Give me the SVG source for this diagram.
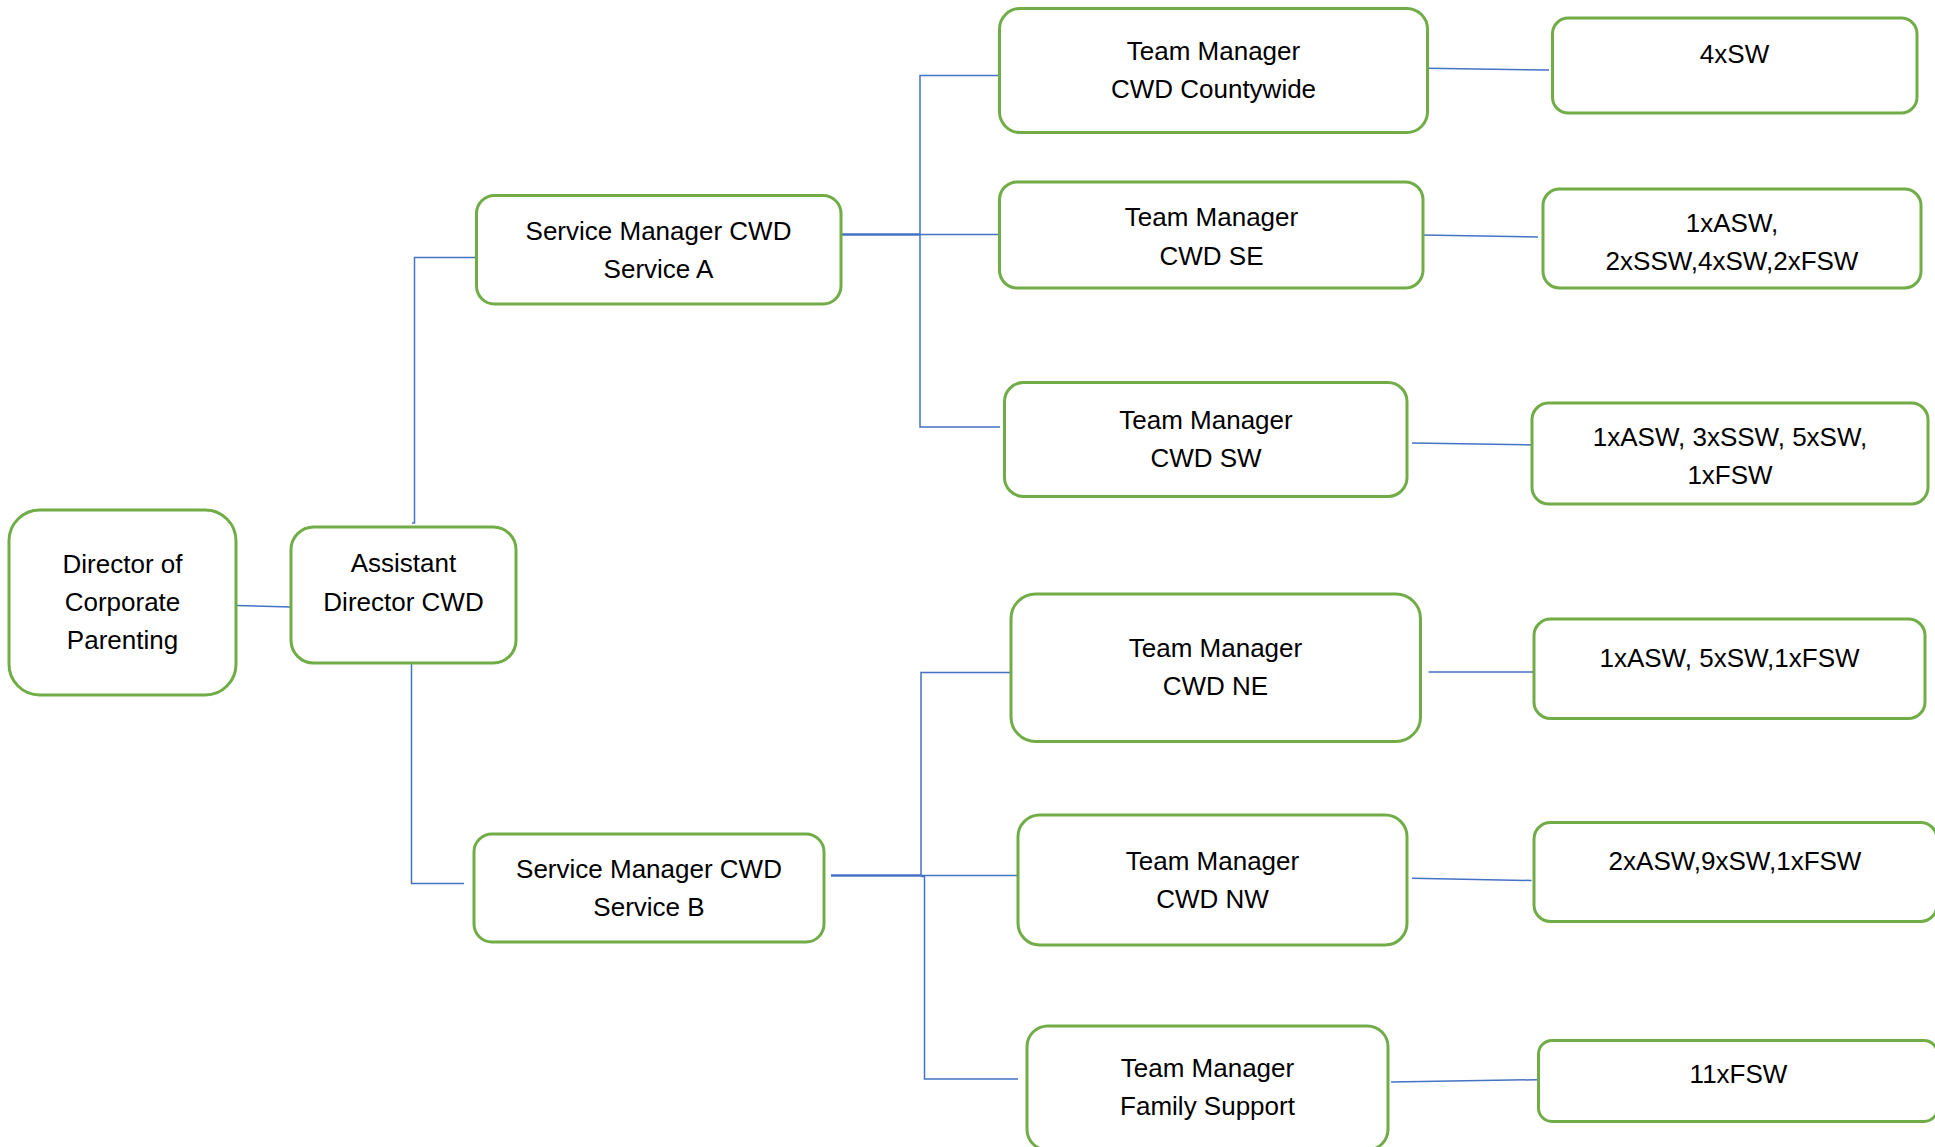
<svg xmlns="http://www.w3.org/2000/svg" width="1935" height="1147" viewBox="0 0 1935 1147">
<style>
.box{fill:#ffffff;stroke:#70AD47;stroke-width:3}
.lbl{font-family:"Liberation Sans",Arial,sans-serif;font-size:26px;fill:#000000;text-anchor:middle}
.con{fill:none;stroke:#4472C4;stroke-width:1.5}
.con2{fill:none;stroke:#4472C4;stroke-width:2.6}
</style>
<rect width="1935" height="1147" fill="#ffffff"/>
<g id="connectors">
<path class="con" d="M236 605.5 L291 607"/>
<path class="con" d="M483.5 257.5 H414.5 V523 H412"/>
<path class="con" d="M411.5 663 V883.5 H464"/>
<path class="con2" d="M841 234.5 H920"/>
<path class="con" d="M920 234.5 H1004.5"/>
<path class="con" d="M1000 75.5 H920 V427 H1000"/>
<path class="con2" d="M831 875.5 H921"/>
<path class="con" d="M921 875.5 H1027.5"/>
<path class="con" d="M1011 672.5 H921 V875.5"/>
<path class="con" d="M921 876.5 H924.5 V1079 H1018"/>
<path class="con" d="M1427 68.3 L1549 70"/>
<path class="con" d="M1423 235 L1538 237"/>
<path class="con" d="M1412 443 L1534 445"/>
<path class="con" d="M1428.5 672 L1537 672"/>
<path class="con" d="M1412 878.3 L1531.5 880.5"/>
<path class="con" d="M1391 1082 L1537 1079.7"/>
</g>
<g id="director">
<rect class="box" x="9" y="510" width="227" height="185" rx="30.8"/>
<text class="lbl" x="122.5" y="572.5">Director of</text>
<text class="lbl" x="122.5" y="610.5">Corporate</text>
<text class="lbl" x="122.5" y="648.5">Parenting</text>
</g>
<g id="assistant-director">
<rect class="box" x="291" y="527" width="225" height="136" rx="22.7"/>
<text class="lbl" x="403.5" y="572">Assistant</text>
<text class="lbl" x="403.5" y="611">Director CWD</text>
</g>
<g id="sm-a">
<rect class="box" x="476.5" y="195.5" width="364.5" height="108.5" rx="18"/>
<text class="lbl" x="658.5" y="240">Service Manager CWD</text>
<text class="lbl" x="658.5" y="278">Service A</text>
</g>
<g id="sm-b">
<rect class="box" x="474" y="834" width="350" height="108" rx="18"/>
<text class="lbl" x="649" y="878">Service Manager CWD</text>
<text class="lbl" x="649" y="916">Service B</text>
</g>
<g id="tm-countywide">
<rect class="box" x="999.5" y="8.5" width="428" height="124" rx="20.7"/>
<text class="lbl" x="1213.5" y="60">Team Manager</text>
<text class="lbl" x="1213.5" y="98">CWD Countywide</text>
</g>
<g id="tm-se">
<rect class="box" x="999.5" y="182" width="423.5" height="106" rx="17.7"/>
<text class="lbl" x="1211.5" y="226">Team Manager</text>
<text class="lbl" x="1211.5" y="264.5">CWD SE</text>
</g>
<g id="tm-sw">
<rect class="box" x="1004.5" y="382.5" width="402.5" height="114" rx="19"/>
<text class="lbl" x="1206" y="429">Team Manager</text>
<text class="lbl" x="1206" y="467">CWD SW</text>
</g>
<g id="tm-ne">
<rect class="box" x="1011" y="594" width="409.5" height="147.5" rx="24.6"/>
<text class="lbl" x="1215.5" y="657">Team Manager</text>
<text class="lbl" x="1215.5" y="695">CWD NE</text>
</g>
<g id="tm-nw">
<rect class="box" x="1018" y="815" width="389" height="130" rx="21.7"/>
<text class="lbl" x="1212.5" y="869.5">Team Manager</text>
<text class="lbl" x="1212.5" y="907.5">CWD NW</text>
</g>
<g id="tm-family-support">
<rect class="box" x="1027" y="1026" width="361" height="124" rx="20.7"/>
<text class="lbl" x="1207.5" y="1077">Team Manager</text>
<text class="lbl" x="1207.5" y="1115">Family Support</text>
</g>
<g id="staff-countywide">
<rect class="box" x="1552.5" y="18" width="364.5" height="95" rx="15.8"/>
<text class="lbl" x="1734.5" y="62.5">4xSW</text>
</g>
<g id="staff-se">
<rect class="box" x="1543" y="189" width="378" height="99" rx="16.5"/>
<text class="lbl" x="1732" y="231.5">1xASW,</text>
<text class="lbl" x="1732" y="270">2xSSW,4xSW,2xFSW</text>
</g>
<g id="staff-sw">
<rect class="box" x="1532" y="403" width="396" height="101" rx="16.8"/>
<text class="lbl" x="1730" y="446">1xASW, 3xSSW, 5xSW,</text>
<text class="lbl" x="1730" y="484">1xFSW</text>
</g>
<g id="staff-ne">
<rect class="box" x="1534" y="619" width="391" height="99.5" rx="16.6"/>
<text class="lbl" x="1729.5" y="667">1xASW, 5xSW,1xFSW</text>
</g>
<g id="staff-nw">
<rect class="box" x="1534" y="822.5" width="403" height="99" rx="16.5"/>
<text class="lbl" x="1735" y="869.5">2xASW,9xSW,1xFSW</text>
</g>
<g id="staff-family-support">
<rect class="box" x="1538.5" y="1040.5" width="399" height="81" rx="13.5"/>
<text class="lbl" x="1738.5" y="1083">11xFSW</text>
</g>
</svg>
